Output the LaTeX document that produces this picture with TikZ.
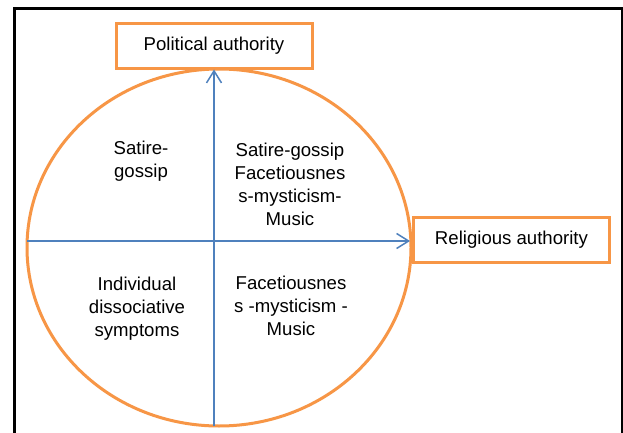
\documentclass[tikz,border=0pt]{standalone}
\usepackage{fontspec}
\setmainfont{Liberation Sans}
\usetikzlibrary{arrows.meta,shapes.geometric}
\definecolor{orng}{HTML}{F79646}
\definecolor{axblue}{HTML}{4F81BD}
\tikzset{
  lbl/.style={align=center, font=\fontsize{18.6}{23}\selectfont, inner sep=0pt},
  authbox/.style={lbl, draw=orng, line width=3pt, minimum width=196pt, minimum height=45pt, fill=white},
  axis/.style={draw=axblue, line width=1.5pt, -{Straight Barb[length=12pt,width=15pt]}},
}
\begin{document}
\begin{tikzpicture}[x=1pt,y=-1pt]
\useasboundingbox (0,0) rectangle (623,433);
\fill[white] (0,0) rectangle (623,433);
% frame
\draw[line width=2.5pt] (14.5,440) -- (14.5,8.5) -- (622,8.5) -- (622,440);
% ellipse
\node[draw=orng, line width=3pt, ellipse, inner sep=0pt, minimum width=384pt, minimum height=357pt] (circ) at (219,247.5) {};
% anchors for axes
\coordinate (vbot) at (214,426);
\coordinate (hleft) at (27,241);
% boxes
\node[authbox] (pol) at (214,46) {Political authority};
\node[authbox] (rel) at (511.5,239.5) {Religious authority};
\coordinate (vtop) at (214,69.5);
\coordinate (hright) at (410,241);
\draw[axis] (vbot) -- (vtop);
\draw[axis] (hleft) -- (hright);
% quadrant texts
\node[lbl] (q1) at (141,161) {Satire-\\gossip};
\node[lbl] (q2) at (290,184) {Satire-gossip\\Facetiousnes\\s-mysticism-\\Music};
\node[lbl] (q3) at (137,309) {Individual\\dissociative\\symptoms};
\node[lbl] (q4) at (291,306) {Facetiousnes\\s -mysticism -\\Music};
\end{tikzpicture}
\end{document}
